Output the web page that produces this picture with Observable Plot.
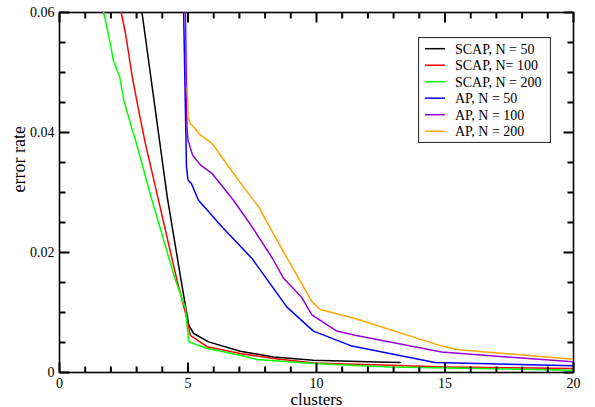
<!DOCTYPE html>
<html>
<head>
<meta charset="utf-8">
<script src="https://cdn.jsdelivr.net/npm/d3@7"></script>
<script src="https://cdn.jsdelivr.net/npm/@observablehq/plot@0.6"></script>
<style>
  html, body { margin: 0; padding: 0; background: #fff; }
  #wrap { position: relative; width: 595px; height: 407px; }
  #legend { position: absolute; left: 418px; top: 37px; }
</style>
</head>
<body>
<div id="wrap"><div id="chart"></div><div id="legend"></div></div>
<script>
// ---- data ----
const seriesNames = ["SCAP, N = 50", "SCAP, N= 100", "SCAP, N = 200", "AP, N = 50", "AP, N = 100", "AP, N = 200"];
const seriesColors = ["#000000", "#ff0000", "#00ff00", "#0000ff", "#9400d3", "#ffa500"];

const scap50 = [[3.21,0.060],[4.19,0.0293],[4.73,0.0154],[5.03,0.0079],[5.22,0.0065],[5.80,0.0051],[7.03,0.00355],[8.33,0.0026],[9.88,0.00205],[12.0,0.0018],[13.25,0.00167]];
const scap100 = [[2.40,0.060],[2.57,0.0565],[2.83,0.0493],[3.08,0.0437],[3.34,0.0382],[3.82,0.0293],[4.57,0.0154],[4.94,0.0093],[5.09,0.0062],[5.74,0.0043],[7.03,0.00317],[8.33,0.00233],[9.88,0.0016],[12.86,0.00122],[15.0,0.00093],[20.0,0.00067]];
const scap200 = [[1.72,0.060],[1.98,0.0548],[2.09,0.0521],[2.34,0.0493],[2.50,0.0454],[2.76,0.0415],[2.99,0.0382],[3.21,0.0348],[3.56,0.0293],[4.51,0.0154],[4.90,0.0107],[5.03,0.0051],[5.74,0.0040],[7.03,0.00288],[7.68,0.00217],[9.88,0.0015],[12.86,0.00093],[20.0,0.00038]];
const ap50 = [[4.83,0.060],[4.94,0.0343],[5.00,0.0321],[5.13,0.0315],[5.41,0.0287],[6.32,0.0243],[7.49,0.0190],[8.85,0.0109],[9.88,0.0069],[11.38,0.0044],[14.61,0.00167],[20.0,0.00113]];
const ap100 = [[4.90,0.060],[4.96,0.0409],[5.00,0.0387],[5.18,0.0362],[5.48,0.0346],[5.93,0.0332],[6.77,0.0287],[7.49,0.0243],[8.29,0.0190],[8.72,0.0157],[9.41,0.0126],[9.82,0.0096],[10.79,0.0069],[11.50,0.0062],[14.87,0.0034],[20.0,0.00177]];
const ap200 = [[4.96,0.0474],[4.99,0.0454],[5.00,0.0426],[5.09,0.0415],[5.22,0.0409],[5.48,0.0396],[5.93,0.0382],[6.97,0.0320],[7.75,0.0276],[8.39,0.0226],[8.91,0.0187],[9.82,0.0118],[10.14,0.0105],[11.50,0.0090],[14.87,0.0044],[15.52,0.0038],[20.0,0.0022]];

const xTicks = [0, 5, 10, 15, 20];
const xTickLabels = ["0", "5", "10", "15", "20"];
const xMinorTicks = [1,2,3,4,6,7,8,9,11,12,13,14,16,17,18,19];
const yTicks = [0, 0.02, 0.04, 0.06];
const yTickLabels = ["0", "0.02", "0.04", "0.06"];
const yMinorTicks = [0.005,0.01,0.015,0.025,0.03,0.035,0.045,0.05,0.055];
const xLabel = "clusters";
const yLabel = "error rate";

// ---- build table ----
const allSeries = [scap50, scap100, scap200, ap50, ap100, ap200];
const table = allSeries.flatMap((pts, i) => pts.map(([x, y]) => ({series: seriesNames[i], x, y})));

const font = "'Liberation Serif', 'Times New Roman', serif";
const W = 595, H = 407, mL = 59, mR = 22, mT = 12, mB = 35;
const xDomain = [0, 20], yDomain = [0, 0.06];
const pxPerX = (W - mL - mR) / (xDomain[1] - xDomain[0]);
const pxPerY = (H - mT - mB) / (yDomain[1] - yDomain[0]);
const major = 10, minor = 6;

function xTickMarks(vals, len, sw) {
  const dl = len / pxPerY;
  return [
    Plot.link(vals, {x1: d => d, x2: d => d, y1: () => yDomain[0], y2: () => yDomain[0] + dl, stroke: "#000", strokeWidth: sw}),
    Plot.link(vals, {x1: d => d, x2: d => d, y1: () => yDomain[1], y2: () => yDomain[1] - dl, stroke: "#000", strokeWidth: sw})
  ];
}
function yTickMarks(vals, len, sw) {
  const dl = len / pxPerX;
  return [
    Plot.link(vals, {y1: d => d, y2: d => d, x1: () => xDomain[0], x2: () => xDomain[0] + dl, stroke: "#000", strokeWidth: sw}),
    Plot.link(vals, {y1: d => d, y2: d => d, x1: () => xDomain[1], x2: () => xDomain[1] - dl, stroke: "#000", strokeWidth: sw})
  ];
}

const chart = Plot.plot({
  width: W, height: H,
  marginLeft: mL, marginRight: mR, marginTop: mT, marginBottom: mB,
  style: {fontFamily: font, fontSize: "14px", color: "#000", background: "#fff"},
  x: {domain: xDomain},
  y: {domain: yDomain},
  color: {domain: seriesNames, range: seriesColors},
  marks: [
    Plot.frame({stroke: "#000", strokeWidth: 1.6}),
    ...seriesNames.map(name => Plot.line(table.filter(d => d.series === name), {
      x: "x", y: "y", stroke: "series", strokeWidth: 1.5, clip: true
    })),
    ...xTickMarks(xMinorTicks, minor, 2),
    ...xTickMarks(xTicks, major, 2),
    ...yTickMarks(yMinorTicks, minor, 2),
    ...yTickMarks(yTicks, major, 2),
    Plot.axisX(xTicks, {anchor: "bottom", tickSize: 0, tickPadding: 6, label: null,
      tickFormat: d => xTickLabels[xTicks.indexOf(d)], fontSize: 14}),
    Plot.axisY(yTicks, {anchor: "left", tickSize: 0, tickPadding: 5, label: null,
      tickFormat: d => yTickLabels[yTicks.indexOf(d)], fontSize: 14}),
    Plot.text([xLabel], {text: d => d, frameAnchor: "bottom", dy: 32, fontSize: 17}),
    Plot.text([yLabel], {text: d => d, frameAnchor: "left", dx: -40, rotate: -90, fontSize: 18})
  ]
});
document.getElementById("chart").appendChild(chart);

// ---- legend (overlay inside plot area) ----
const rowH = 16.5, padTop = 11.7;
const lw = 133, lh = 106;
const lsvg = d3.select("#legend").append("svg")
  .attr("width", lw).attr("height", lh)
  .style("font-family", font).style("font-size", "14px").style("display", "block");
lsvg.append("rect").attr("x", 0.5).attr("y", 0.5).attr("width", lw - 1).attr("height", lh - 1)
  .attr("fill", "#fff").attr("stroke", "#333").attr("stroke-width", 1.2);
const rows = lsvg.selectAll("g.row").data(seriesNames).join("g")
  .attr("transform", (d, i) => `translate(0,${padTop + i * rowH})`);
rows.append("line").attr("x1", 7).attr("x2", 27).attr("y1", 0).attr("y2", 0)
  .attr("stroke", (d, i) => seriesColors[i]).attr("stroke-width", 1.5);
rows.append("text").attr("x", 37).attr("y", 0).attr("dy", "0.35em").attr("fill", "#000").text(d => d);
</script>
</body>
</html>
